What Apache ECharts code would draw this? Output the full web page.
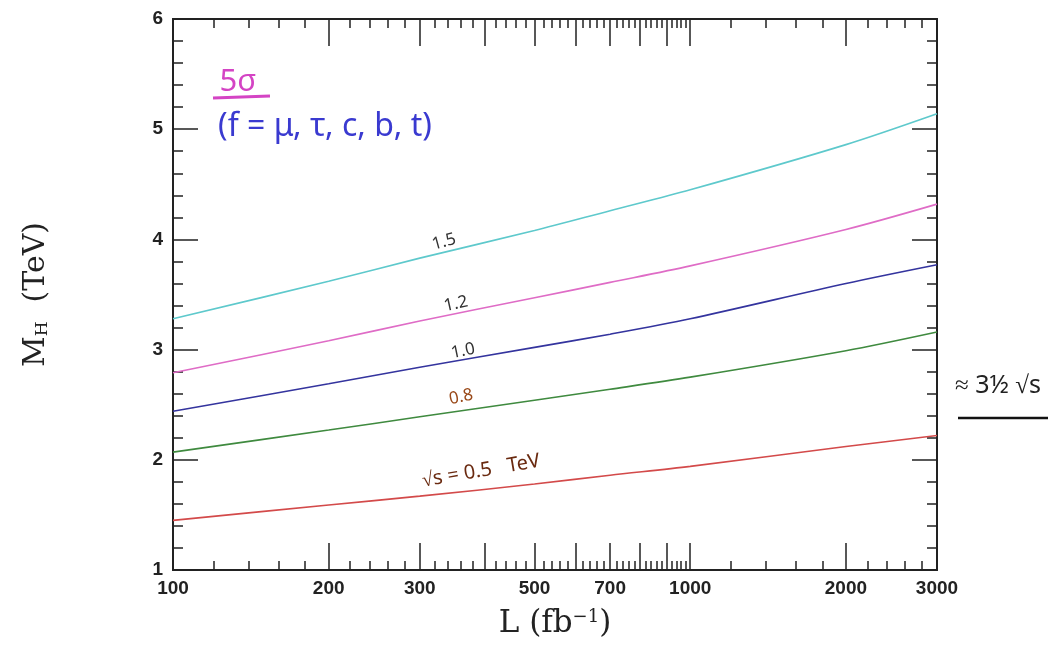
<!DOCTYPE html>
<html>
<head>
<meta charset="utf-8">
<title>M_H reach vs luminosity</title>
<script src="https://cdn.jsdelivr.net/npm/echarts@6/dist/echarts.min.js"></script>
<style>
  html, body { margin: 0; padding: 0; background: #fff; }
  #chart { width: 1054px; height: 652px; }
</style>
</head>
<body>
<div id="chart"></div>
<script>
// luminosity points (fb^-1) where the curves were read
const lumi = [100, 200, 300, 500, 700, 1000, 2000, 3000]
// 5 sigma reach in M_H (TeV), one list per sqrt(s)
const reach15 = [3.28, 3.62, 3.83, 4.08, 4.26, 4.45, 4.86, 5.14]
const reach12 = [2.79, 3.08, 3.26, 3.47, 3.61, 3.76, 4.09, 4.32]
const reach10 = [2.44, 2.69, 2.84, 3.02, 3.14, 3.28, 3.60, 3.77]
const reach08 = [2.07, 2.27, 2.39, 2.54, 2.64, 2.75, 2.99, 3.16]
const reach05 = [1.45, 1.59, 1.67, 1.78, 1.86, 1.94, 2.12, 2.22]

// axis ticks / labels
const xLabels = [100, 200, 300, 500, 700, 1000, 2000, 3000]
const xMajorTicks = [100, 200, 300, 400, 500, 600, 700, 800, 900, 1000, 2000, 3000]
const xMinorTicks = []
for (let v = 120; v < 1000; v += 20) if (v % 100) xMinorTicks.push(v)
for (let v = 1200; v < 3000; v += 200) if (v % 1000) xMinorTicks.push(v)
const yMin = 1, yMax = 6

const lg = v => Math.log10(v)
const xMin = lg(100), xMax = lg(3000)
const ink = '#222'

function xAxis(position, ticks, len, labels, name) {
  return {
    type: 'value',
    position: position,
    min: xMin,
    max: xMax,
    name: name || '',
    nameLocation: 'middle',
    nameGap: 38,
    nameTextStyle: {
      color: ink,
      fontFamily: 'DejaVu Serif',
      fontSize: 31,
      rich: {
        m: { fontFamily: 'DejaVu Serif', fontSize: 31, color: ink },
        sup: { fontFamily: 'DejaVu Serif', fontSize: 18, color: ink, verticalAlign: 'top' }
      }
    },
    axisLine: { show: true, onZero: false, lineStyle: { color: ink, width: 2 } },
    axisTick: {
      show: true, inside: true, length: len,
      customValues: ticks.map(lg),
      lineStyle: { color: ink, width: 1.5 }
    },
    axisLabel: labels ? {
      show: true,
      customValues: labels.map(lg),
      formatter: v => String(Math.round(Math.pow(10, v))),
      color: ink, fontFamily: 'Liberation Sans', fontWeight: 'bold', fontSize: 19, margin: 9
    } : { show: false },
    splitLine: { show: false }
  }
}

function yAxis(position, labels, name) {
  return {
    type: 'value',
    position: position,
    min: yMin,
    max: yMax,
    interval: 1,
    name: name || '',
    nameLocation: 'middle',
    nameRotate: 90,
    nameGap: 122,
    nameTextStyle: {
      color: ink,
      fontFamily: 'DejaVu Serif',
      fontSize: 30,
      rich: {
        m: { fontFamily: 'DejaVu Serif', fontSize: 30, color: ink },
        sub: { fontFamily: 'DejaVu Serif', fontSize: 17, color: ink, verticalAlign: 'bottom' }
      }
    },
    axisLine: { show: true, onZero: false, lineStyle: { color: ink, width: 2 } },
    axisTick: { show: true, inside: true, length: 25, lineStyle: { color: ink, width: 1.5 } },
    minorTick: { show: true, splitNumber: 5, length: 10, lineStyle: { color: ink, width: 1.5 } },
    axisLabel: labels ? {
      show: true, color: ink, fontFamily: 'Liberation Sans', fontWeight: 'bold', fontSize: 19, margin: 10
    } : { show: false },
    splitLine: { show: false }
  }
}

function curve(name, values, color) {
  return {
    name: name,
    type: 'line',
    xAxisIndex: 0,
    yAxisIndex: 0,
    data: lumi.map((l, i) => [lg(l), values[i]]),
    showSymbol: false,
    smooth: 0.3,
    lineStyle: { color: color, width: 1.6 },
    itemStyle: { color: color },
    z: 3
  }
}

const hand = 'Noto Sans'
function note(text, x, y, rot, size, color) {
  return {
    type: 'text', x: x, y: y, rotation: rot,
    style: { text: text, fill: color, font: size + 'px ' + hand, align: 'center', verticalAlign: 'middle' }
  }
}

const chart = echarts.init(document.getElementById('chart'))
chart.setOption({
  animation: false,
  backgroundColor: '#fff',
  grid: { left: 173, top: 19, right: 117, bottom: 82 },
  xAxis: [
    xAxis('bottom', xMajorTicks, 27, xLabels, '{m|L (fb}{sup|−1}{m|)}'),
    xAxis('bottom', xMinorTicks, 9, null),
    xAxis('top', xMajorTicks, 27, null),
    xAxis('top', xMinorTicks, 9, null)
  ],
  yAxis: [
    yAxis('left', true, '{m|M}{sub|H}  {m|(TeV)}'),
    yAxis('right', false)
  ],
  series: [
    curve('1.5', reach15, '#5ec9cc'),
    curve('1.2', reach12, '#df6cc6'),
    curve('1.0', reach10, '#34349e'),
    curve('0.8', reach08, '#3f8a3f'),
    curve('0.5', reach05, '#d34a4a')
  ],
  graphic: [
    note('5σ', 238, 82, 0, 31, '#d444c4'),
    { type: 'line', shape: { x1: 213, y1: 98, x2: 270, y2: 96 }, style: { stroke: '#d444c4', lineWidth: 3 } },
    note('(f = μ, τ, c, b, t)', 325, 127, 0, 32, '#3a3ad0'),
    note('1.5', 444, 242, 0.27, 17, '#333'),
    note('1.2', 456, 304, 0.22, 17, '#333'),
    note('1.0', 463, 351, 0.2, 17, '#333'),
    note('0.8', 461, 397, 0.2, 17, '#9a4a1a'),
    note('√s = 0.5   TeV', 481, 471, 0.17, 20, '#6a2a10'),
    note('≈ 3½ √s', 998, 386, 0, 25, '#222'),
    { type: 'line', shape: { x1: 958, y1: 418, x2: 1048, y2: 418 }, style: { stroke: '#111', lineWidth: 2.5 } }
  ]
})
</script>
</body>
</html>
